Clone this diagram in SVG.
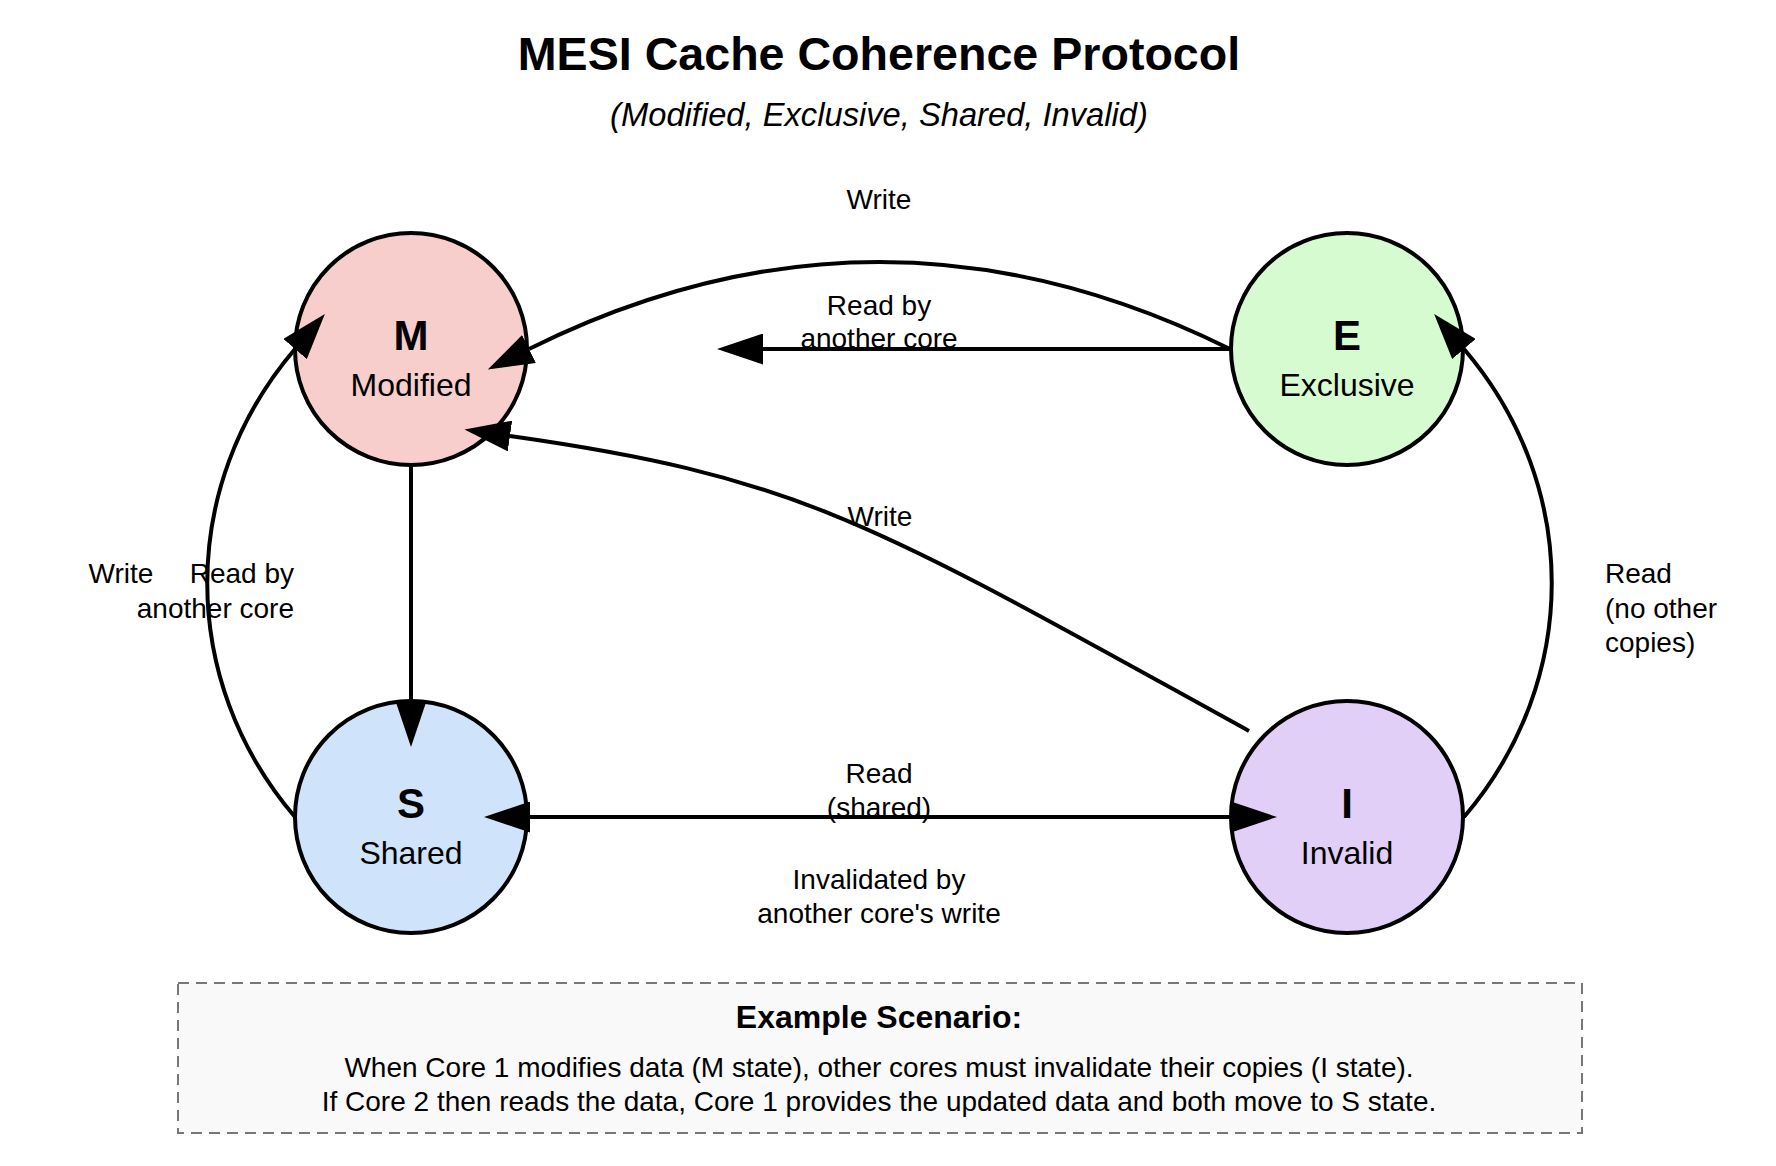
<svg xmlns="http://www.w3.org/2000/svg" width="1776" height="1166" viewBox="0 0 1776 1166">
  <style>
    text { font-family: "Liberation Sans", Arial, Helvetica, sans-serif; fill: #000; }
    .title { font-size: 46.6px; font-weight: bold; text-anchor: middle; }
    .subtitle { font-size: 32.7px; font-style: italic; text-anchor: middle; }
    .state { stroke: #000; stroke-width: 4; }
    .letter { font-size: 42px; font-weight: bold; text-anchor: middle; }
    .name { font-size: 32px; text-anchor: middle; }
    .edge { fill: none; stroke: #000; stroke-width: 4; marker-end: url(#arrow); }
    .lbl { font-size: 28px; text-anchor: middle; }
    .lbl-end { font-size: 28px; text-anchor: end; }
    .lbl-start { font-size: 28px; text-anchor: start; }
    .box { fill: #f9f9f9; stroke: #777; stroke-width: 2; stroke-dasharray: 11 7; }
    .boxtitle { font-size: 32px; font-weight: bold; text-anchor: middle; }
    .boxtext { font-size: 28px; text-anchor: middle; }
  </style>
  <defs>
    <marker id="arrow" viewBox="0 0 46 31" markerWidth="46" markerHeight="31" refX="0" refY="15.5" orient="auto" markerUnits="userSpaceOnUse">
      <path d="M0,0 L46,15.5 L0,31 Z" fill="#000"/>
    </marker>
  </defs>

  <rect width="1776" height="1166" fill="#fff"/>

  <text class="title" x="879" y="70">MESI Cache Coherence Protocol</text>
  <text class="subtitle" x="879" y="126">(Modified, Exclusive, Shared, Invalid)</text>

  <g id="node-M">
    <circle class="state" cx="411" cy="349" r="116" fill="#f8cecc"/>
    <text class="letter" x="411" y="350">M</text>
    <text class="name" x="411" y="396">Modified</text>
  </g>
  <g id="node-E">
    <circle class="state" cx="1347" cy="349" r="116" fill="#d6fbd1"/>
    <text class="letter" x="1347" y="350">E</text>
    <text class="name" x="1347" y="396">Exclusive</text>
  </g>
  <g id="node-S">
    <circle class="state" cx="411" cy="817" r="116" fill="#cfe3fb"/>
    <text class="letter" x="411" y="818">S</text>
    <text class="name" x="411" y="864">Shared</text>
  </g>
  <g id="node-I">
    <circle class="state" cx="1347" cy="817" r="116" fill="#e1cff8"/>
    <text class="letter" x="1347" y="818">I</text>
    <text class="name" x="1347" y="864">Invalid</text>
  </g>

  <g id="connectors">
    <path id="e-E-M-write" class="edge" d="M1230,349 Q879,175 529,349"/>
    <path id="e-E-M-read" class="edge" d="M1230,349 L763,349"/>
    <path id="e-I-M-write" class="edge" d="M1249,731 C875,525 806,478 510,436"/>
    <path id="e-S-M-write" class="edge" d="M295,817 C178,680 178,486 295,349"/>
    <path id="e-M-S-read" class="edge" d="M411,466 L411,701"/>
    <path id="e-I-E-read" class="edge" d="M1464,817 C1581,680 1581,486 1464,349"/>
    <path id="e-S-I-read" class="edge" d="M528,817 L1231,817"/>
    <path id="e-I-S-inv" class="edge" d="M1230,817 L530,817"/>
  </g>

  <g id="edge-labels">
    <text class="lbl" x="879" y="209">Write</text>
    <text class="lbl" x="879" y="315">Read by</text>
    <text class="lbl" x="879" y="348">another core</text>
    <text class="lbl" x="880" y="526">Write</text>
    <text class="lbl" x="121" y="583">Write</text>
    <text class="lbl-end" x="294" y="583">Read by</text>
    <text class="lbl-end" x="294" y="618">another core</text>
    <text class="lbl-start" x="1605" y="583">Read</text>
    <text class="lbl-start" x="1605" y="618">(no other</text>
    <text class="lbl-start" x="1605" y="652">copies)</text>
    <text class="lbl" x="879" y="783">Read</text>
    <text class="lbl" x="879" y="817">(shared)</text>
    <text class="lbl" x="879" y="889">Invalidated by</text>
    <text class="lbl" x="879" y="923">another core's write</text>
  </g>

  <g id="example">
    <rect class="box" x="178" y="983" width="1404" height="150"/>
    <text class="boxtitle" x="879" y="1028">Example Scenario:</text>
    <text class="boxtext" x="879" y="1077">When Core 1 modifies data (M state), other cores must invalidate their copies (I state).</text>
    <text class="boxtext" x="879" y="1111">If Core 2 then reads the data, Core 1 provides the updated data and both move to S state.</text>
  </g>
</svg>
